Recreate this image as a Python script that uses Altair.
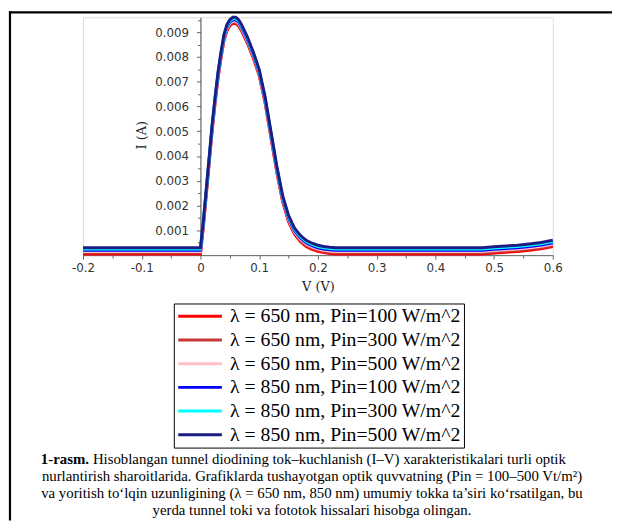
import altair as alt
import pandas as pd

# ---- data ----
voltage = [-0.2, 0.0, 0.005, 0.01, 0.015, 0.02, 0.025, 0.03, 0.035, 0.04, 0.045, 0.05,
           0.055, 0.06, 0.065, 0.07, 0.08, 0.09, 0.10, 0.11, 0.12, 0.13, 0.14, 0.15,
           0.16, 0.17, 0.18, 0.19, 0.20, 0.21, 0.22, 0.23, 0.30, 0.40, 0.48, 0.49,
           0.50, 0.52, 0.54, 0.56, 0.58, 0.60]
tunnel_current = [0.0, 0.0, 0.0011, 0.0024, 0.0037, 0.0050, 0.0061, 0.0071, 0.0079, 0.0086,
                  0.0090, 0.0092, 0.0093, 0.0093, 0.0092, 0.0090, 0.0085, 0.0079, 0.0072,
                  0.0061, 0.0047, 0.0033, 0.0021, 0.0013, 0.0008, 0.0005, 0.0003, 0.00018,
                  0.0001, 0.00005, 0.00002, 0.0, 0.0, 0.0, 0.0, 0.00002, 0.00004, 0.00007,
                  0.0001, 0.00015, 0.00021, 0.0003]
series_labels = [
    "λ = 650 nm, Pin=100 W/m^2",
    "λ = 650 nm, Pin=300 W/m^2",
    "λ = 650 nm, Pin=500 W/m^2",
    "λ = 850 nm, Pin=100 W/m^2",
    "λ = 850 nm, Pin=300 W/m^2",
    "λ = 850 nm, Pin=500 W/m^2",
]
photo_current = [0.00005, 0.0001, 0.00015, 0.0002, 0.00025, 0.0003]
series_colors = ["#ff0000", "#c83737", "#ffc0cb", "#0000ff", "#00ffff", "#1c1c85"]

x_ticks = [-0.2, -0.1, 0.0, 0.1, 0.2, 0.3, 0.4, 0.5, 0.6]
x_minor = [-0.15, -0.05, 0.05, 0.15, 0.25, 0.35, 0.45, 0.55]
y_ticks = [0.001, 0.002, 0.003, 0.004, 0.005, 0.006, 0.007, 0.008, 0.009]
y_minor = [0.0005, 0.0015, 0.0025, 0.0035, 0.0045, 0.0055, 0.0065, 0.0075, 0.0085, 0.0095]

caption_bold = "1-rasm."
caption_first = "Hisoblangan tunnel diodining tok–kuchlanish (I–V) xarakteristikalari turli optik"
caption_rest = [
    "nurlantirish sharoitlarida. Grafiklarda tushayotgan optik quvvatning (Pin = 100–500 Vt/m²)",
    "va yoritish to‘lqin uzunligining (λ = 650 nm, 850 nm) umumiy tokka ta’siri ko‘rsatilgan, bu",
    "yerda tunnel toki va fototok hissalari hisobga olingan.",
]

# ---- table ----
rows = []
for lab, ph in zip(series_labels, photo_current):
    for v, it in zip(voltage, tunnel_current):
        rows.append({"V": v, "I": it + ph, "series": lab})
df = pd.DataFrame(rows)

W, H = 476, 241
ZERO_X = 119  # pixel position of V = 0 inside the plot

xs = alt.Scale(domain=[-0.2, 0.6], nice=False, zero=False)
ys = alt.Scale(domain=[0, 0.0096], nice=False, zero=False)

AX = "#666666"
TICKFONT = "DejaVu Sans"

lines = alt.Chart(df).mark_line(strokeWidth=3, clip=False).encode(
    x=alt.X("V:Q", scale=xs, axis=alt.Axis(
        orient="bottom", values=x_ticks, grid=False,
        labelExpr="datum.value == 0 ? '0' : (datum.value < 0 ? '-' : '') + format(abs(datum.value), '.1f')",
        labelFont=TICKFONT, labelFontSize=12, labelColor="#333333", labelPadding=4,
        tickSize=4, tickColor=AX, domainColor=AX, labelFlush=False,
        title="V (V)", titleFont="DejaVu Serif", titleFontSize=13, titleFontWeight="normal",
        titleColor="#222222", titlePadding=7)),
    y=alt.Y("I:Q", scale=ys, axis=alt.Axis(
        orient="left", offset=-ZERO_X, values=y_ticks, grid=False, format=".3f",
        labelFont=TICKFONT, labelFontSize=12, labelColor="#333333", labelPadding=8,
        tickSize=4, tickColor=AX, domainColor="#444444",
        title="I (A)", titleFont="DejaVu Serif", titleFontSize=13, titleFontWeight="normal",
        titleColor="#222222", titleX=-60, titleY=119, titleAngle=270,
        titleAlign="center", titleBaseline="middle")),
    color=alt.Color("series:N", sort=series_labels,
                    scale=alt.Scale(domain=series_labels, range=series_colors),
                    legend=alt.Legend(
                        title=None, orient="none", legendX=92, legendY=290,
                        strokeColor="black", fillColor="white", padding=3,
                        symbolType="M-1,0H4.2", symbolSize=289, symbolStrokeWidth=3,
                        labelFont="Liberation Serif", labelFontSize=20, labelColor="black",
                        rowPadding=4, labelLimit=500, labelOffset=34)),
)

minor = alt.Chart(df).mark_point(opacity=0).encode(
    x=alt.X("V:Q", scale=xs, axis=alt.Axis(
        orient="bottom", values=x_minor, labels=False, domain=False, grid=False,
        tickSize=3, tickColor=AX, title=None)),
    y=alt.Y("I:Q", scale=ys, axis=alt.Axis(
        orient="left", offset=-ZERO_X, values=y_minor, labels=False, domain=False,
        grid=False, tickSize=3, tickColor=AX, title=None)),
)

one = pd.DataFrame({"k": [0]})

border_left = alt.Chart(one).mark_rule(color="black", strokeWidth=2.2).encode(
    x=alt.value(-74), y=alt.value(-6), y2=alt.value(510))
border_top = alt.Chart(one).mark_rule(color="black", strokeWidth=2.2).encode(
    x=alt.value(-75), x2=alt.value(536), y=alt.value(-5))

CAP_FONT = "Liberation Serif"
CAP_SIZE = 15
cap_layers = [
    alt.Chart(one).mark_text(text=caption_bold, font=CAP_FONT, fontSize=CAP_SIZE,
                             fontWeight="bold", align="right", baseline="middle",
                             color="black").encode(x=alt.value(6), y=alt.value(448)),
    alt.Chart(one).mark_text(text=caption_first, font=CAP_FONT, fontSize=CAP_SIZE,
                             align="left", baseline="middle",
                             color="black").encode(x=alt.value(10), y=alt.value(448)),
]
for i, line in enumerate(caption_rest):
    cap_layers.append(
        alt.Chart(one).mark_text(text=line, font=CAP_FONT, fontSize=CAP_SIZE,
                                 align="center", baseline="middle",
                                 color="black").encode(x=alt.value(232), y=alt.value(465 + 17.3 * i)))

chart = alt.layer(lines, minor, border_left, border_top, *cap_layers).resolve_axis(
    x="independent", y="independent"
).properties(
    width=W, height=H,
    padding={"left": 76, "top": 6, "right": 60, "bottom": 268},
    autosize=alt.AutoSizeParams(type="none"),
).configure_view(stroke=None).configure(background="white")

chart.save("out.html", embed_options={"renderer": "svg", "actions": False})
